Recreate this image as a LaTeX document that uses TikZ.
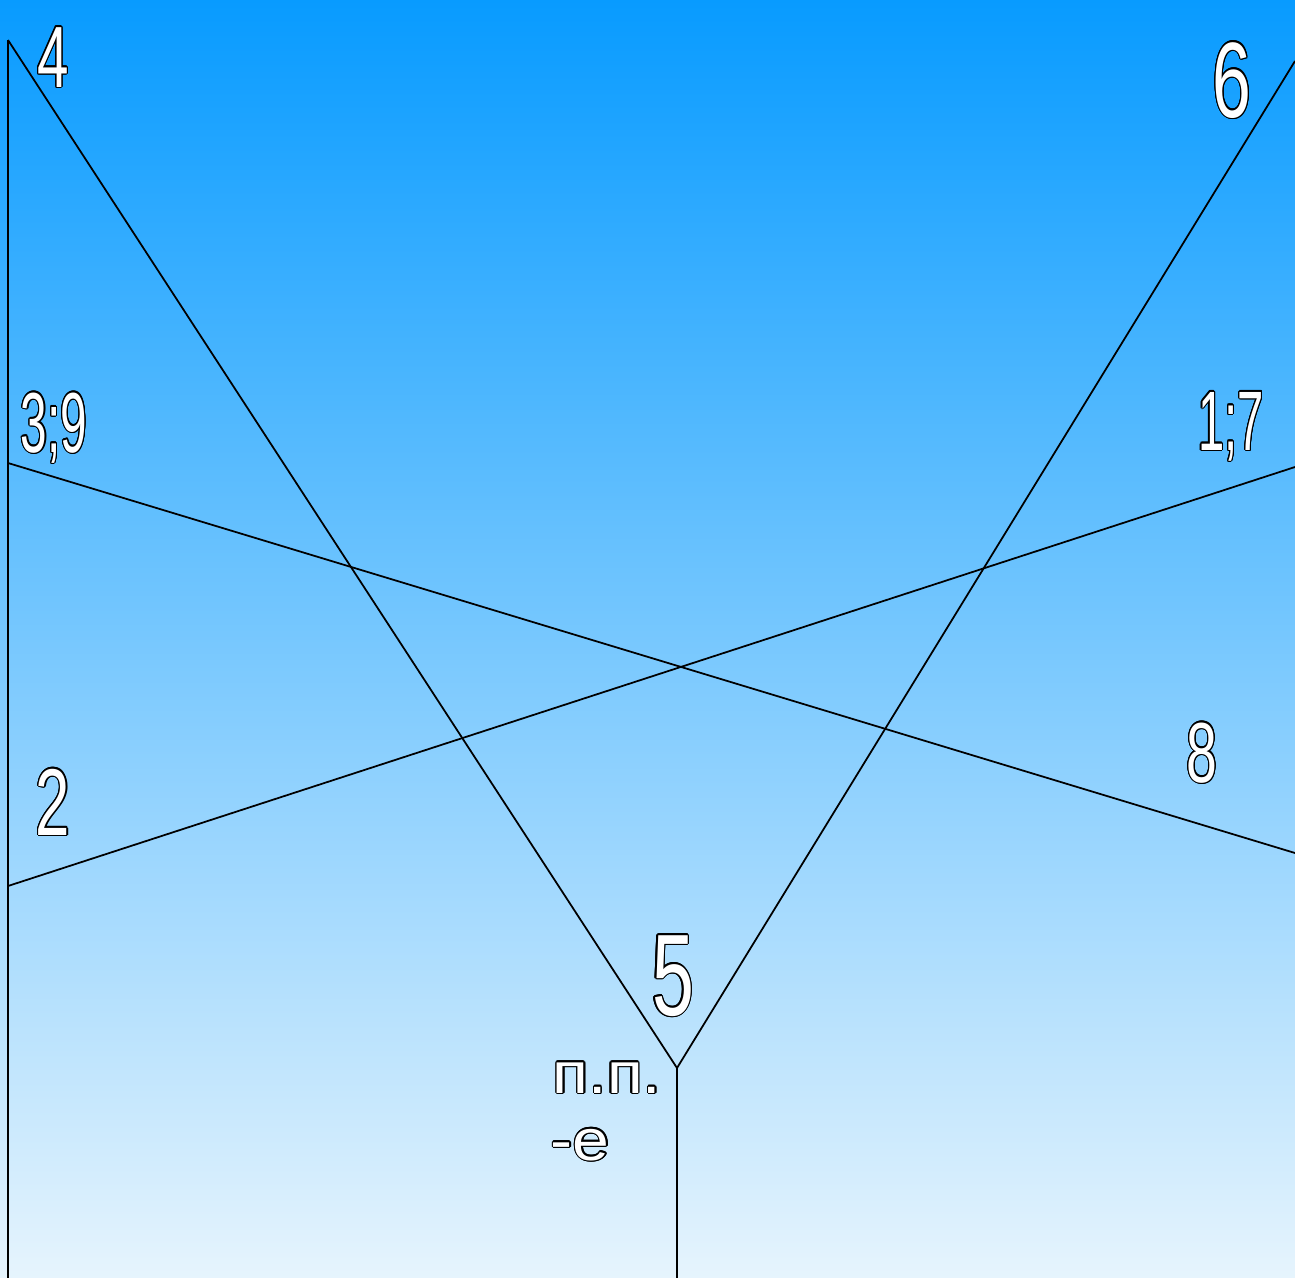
\documentclass[tikz,border=0pt]{standalone}
\usepackage{fontspec}
\setmainfont{Liberation Sans}
\newfontfamily\narrowfont[FakeStretch=0.65]{Liberation Sans}
\newfontfamily\narrowerfont[FakeStretch=0.56]{Liberation Sans}
\newfontfamily\widefont[FakeStretch=1.14]{Liberation Sans}
\usepackage[copies]{contour}
\contourlength{0.7pt}
\definecolor{skytop}{HTML}{089BFF}
\definecolor{skybottom}{HTML}{E6F4FD}

\begin{document}
\begin{tikzpicture}[x=0.02cm, y=-0.02cm, line width=1pt,
    digit/.style={anchor=base, text=white, inner sep=0pt},
    caption/.style={anchor=base west, text=white, inner sep=0pt, font=\widefont\fontsize{33}{36}\selectfont}]

    % Background
    \shade[top color=skytop, bottom color=skybottom] (0,0) rectangle (1295,1278);
    \useasboundingbox (0,0) rectangle (1295,1278);

    % Corner points
    \coordinate (topleft) at (8,40);
    \coordinate (midleft) at (8,463);
    \coordinate (lowleft) at (8,886);
    \coordinate (botleft) at (8,1278);
    \coordinate (apex) at (677,1068);
    \coordinate (botapex) at (677,1278);
    \coordinate (topright) at (1295,61);
    \coordinate (midright) at (1295,467);
    \coordinate (lowright) at (1295,853);

    % Lines
    \draw (topleft) -- (botleft);
    \draw (topleft) -- (apex) -- (topright);
    \draw (apex) -- (botapex);
    \draw (midleft) -- (lowright);
    \draw (lowleft) -- (midright);

    % Numbers
    \foreach \x/\y/\s/\f/\name/\lab in {53/87/49.5/\narrowfont/four/4, 1232/117/61/\narrowfont/six/6,
                                        54/452/48.5/\narrowerfont/threenine/3;9, 1231/450/48/\narrowerfont/oneseven/1;7,
                                        53/835/54/\narrowfont/two/2, 1202/782/48.5/\narrowfont/eight/8,
                                        673/1015/66/\narrowfont/five/5}
      \node[digit, font=\f\fontsize{\s}{\s}\selectfont] (\name) at (\x,\y) {\contour{black}{\lab}};

    % Captions
    \node[caption] (pp) at (552,1093) {\contour{black}{п.п.}};
    \node[caption] (ending) at (550,1160) {\contour{black}{-е}};
\end{tikzpicture}
\end{document}
